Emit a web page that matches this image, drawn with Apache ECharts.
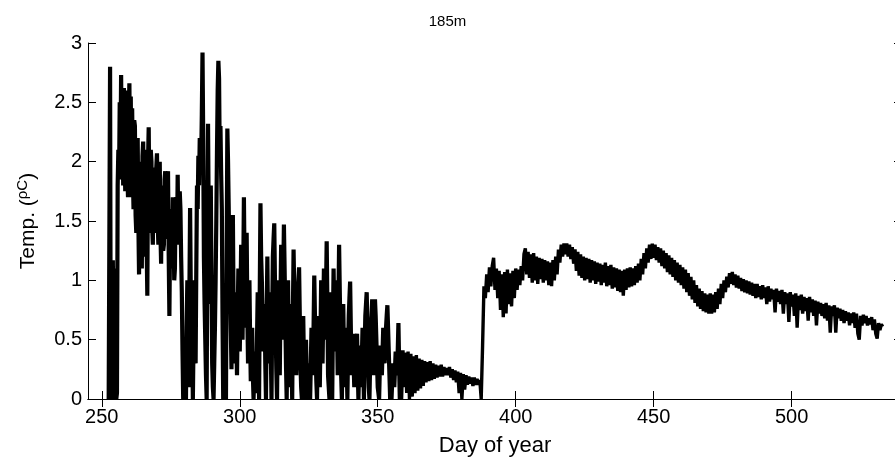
<!DOCTYPE html>
<html>
<head>
<meta charset="utf-8">
<title>185m</title>
<script src="https://cdn.jsdelivr.net/npm/echarts@6/dist/echarts.min.js"></script>
<style>
  html, body { margin: 0; padding: 0; background: #fff; }
  #chart { width: 895px; height: 463px; }
</style>
</head>
<body>
<div id="chart"></div>
<script>
// Temperature record at 185 m depth. Each segment has its own start day and sample step.
const segmentStarts = [252.5, 300.25, 360.5, 388.5, 460.5];
const segmentSteps  = [0.25, 0.25, 0.5, 0.5, 0.5];

// days 252.50 - 300.00, every 6 h (two days per row)
const tempsA = [
  0.00, 0.00, 2.80, 0.00, 0.60, 0.00, 1.17, 0.30,
  0.00, 0.90, 1.10, 0.00, 0.05, 1.80, 2.10, 1.85,
  2.50, 2.00, 2.73, 1.95, 2.60, 1.80, 2.62, 2.10,
  1.75, 2.45, 2.60, 1.90, 1.70, 2.40, 2.66, 1.85,
  2.55, 1.70, 2.45, 1.90, 1.60, 2.35, 2.30, 1.55,
  1.40, 2.10, 2.20, 1.50, 1.05, 1.95, 2.00, 1.40,
  1.10, 2.05, 2.17, 1.45, 1.20, 2.10, 1.90, 1.30,
  0.87, 2.00, 2.29, 1.60, 1.40, 2.10, 2.00, 1.45,
  1.30, 1.95, 1.90, 1.40, 1.50, 1.95, 2.07, 1.50,
  1.30, 1.85, 2.00, 1.40, 1.14, 1.80, 1.70, 1.25,
  1.30, 1.85, 1.92, 1.35, 1.40, 1.85, 1.92, 1.20,
  0.70, 1.40, 1.60, 1.10, 1.20, 1.70, 1.50, 1.00,
  1.10, 1.65, 1.70, 1.30, 1.89, 1.40, 1.30, 1.75,
  1.60, 1.20, 0.90, 0.40, 0.00, 0.30, 0.40, 0.10,
  0.00, 0.60, 1.00, 0.50, 0.10, 0.90, 1.61, 0.90,
  0.20, 0.50, 0.00, 0.50, 1.00, 0.60, 0.30, 1.10,
  1.80, 1.60, 2.05, 1.80, 2.20, 1.90, 2.00, 2.40,
  2.92, 2.20, 1.20, 0.80, 0.50, 0.20, 0.00, 1.40,
  2.32, 1.50, 0.80, 1.20, 1.80, 1.00, 0.30, 0.10,
  0.00, 0.30, 0.60, 1.00, 1.50, 2.10, 2.60, 2.85,
  2.70, 2.00, 2.30, 1.90, 1.60, 0.70, 0.00, 0.40,
  0.80, 0.30, 0.00, 1.20, 2.28, 2.00, 1.60, 1.20,
  1.00, 0.60, 0.25, 0.90, 1.55, 0.80, 0.30, 0.60,
  0.90, 0.50, 0.20, 0.70, 1.10, 0.70, 0.40
];
// days 300.25 - 360.00, every 6 h
const tempsB = [
  0.80, 1.30, 0.90, 0.50, 1.00, 1.70, 1.10, 0.60,
  0.90, 1.40, 0.70, 0.30, 0.70, 1.00, 0.50, 0.15,
  0.40, 0.60, 0.20, 0.00, 0.20, 0.40, 0.20, 0.05,
  0.50, 0.90, 0.40, 0.00, 0.90, 1.65, 1.20, 1.00,
  0.70, 0.40, 0.60, 0.80, 0.30, 0.00, 0.70, 1.20,
  0.60, 0.30, 0.60, 0.90, 0.40, 0.00, 0.70, 1.20,
  1.35, 1.48, 1.00, 0.60, 0.25, 0.00, 0.60, 1.00,
  0.50, 0.20, 0.80, 1.30, 0.80, 0.50, 1.00, 1.47,
  1.10, 0.70, 0.30, 0.00, 0.50, 1.00, 0.50, 0.10,
  0.40, 0.80, 0.40, 0.00, 0.70, 1.26, 0.90, 0.60,
  0.40, 0.20, 0.50, 0.90, 1.00, 1.11, 0.70, 0.30,
  0.10, 0.00, 0.40, 0.70, 0.30, 0.00, 0.30, 0.50,
  0.20, 0.00, 0.20, 0.30, 0.10, 0.00, 0.30, 0.60,
  0.40, 0.20, 0.60, 1.04, 0.70, 0.40, 0.15, 0.00,
  0.40, 0.70, 0.40, 0.10, 0.50, 1.00, 0.60, 0.30,
  0.70, 1.10, 0.80, 0.50, 0.90, 1.33, 0.80, 0.20,
  0.10, 0.00, 0.50, 0.90, 0.40, 0.00, 0.60, 1.10,
  0.70, 0.40, 0.70, 1.00, 0.60, 0.20, 0.80, 1.30,
  0.90, 0.50, 0.20, 0.00, 0.40, 0.80, 0.40, 0.10,
  0.35, 0.60, 0.30, 0.00, 0.40, 0.70, 0.85, 0.99,
  0.60, 0.20, 0.40, 0.55, 0.30, 0.10, 0.30, 0.40,
  0.50, 0.55, 0.25, 0.00, 0.25, 0.45, 0.25, 0.10,
  0.35, 0.60, 0.30, 0.00, 0.40, 0.70, 0.80, 0.90,
  0.60, 0.30, 0.10, 0.00, 0.30, 0.60, 0.70, 0.84,
  0.50, 0.20, 0.50, 0.84, 0.70, 0.50, 0.30, 0.10,
  0.05, 0.00, 0.25, 0.45, 0.30, 0.20, 0.40, 0.60,
  0.45, 0.30, 0.45, 0.60, 0.70, 0.79, 0.60, 0.40,
  0.20, 0.00, 0.15, 0.00, 0.15, 0.30, 0.20, 0.10,
  0.25, 0.40, 0.30, 0.20, 0.40, 0.64, 0.30, 0.00,
  0.15, 0.00, 0.20, 0.41, 0.25, 0.10, 0.25, 0.39
];
// days 360.5 - 388.0, every 12 h
const tempsC = [
  0.05, 0.40, 0.00, 0.38, 0.02, 0.36, 0.05, 0.37, 0.07, 0.34,
  0.09, 0.33, 0.11, 0.32, 0.14, 0.31, 0.15, 0.32, 0.16, 0.30,
  0.17, 0.29, 0.18, 0.28, 0.19, 0.29, 0.19, 0.27, 0.20, 0.26,
  0.20, 0.27, 0.18, 0.25, 0.16, 0.24, 0.14, 0.23, 0.05, 0.22,
  0.00, 0.21, 0.08, 0.20, 0.12, 0.19, 0.13, 0.18, 0.11, 0.18,
  0.12, 0.17, 0.12, 0.16, 0.00, 0.45
];
// days 388.5 - 460.0, every 12 h
const tempsD = [
  0.95, 0.85, 1.05, 0.90, 1.11, 0.95, 1.12, 1.19, 0.92, 1.10,
  0.85, 1.08, 0.75, 1.05, 0.69, 1.07, 0.72, 1.09, 0.80, 1.06,
  0.78, 1.08, 0.85, 1.10, 0.92, 1.09, 0.96, 1.12, 1.00, 1.22,
  1.27, 1.05, 1.24, 1.02, 1.22, 0.98, 1.23, 1.00, 1.20, 0.97,
  1.19, 1.01, 1.18, 0.98, 1.17, 1.00, 1.16, 0.96, 1.15, 0.95,
  1.17, 1.00, 1.20, 1.05, 1.26, 1.15, 1.30, 1.20, 1.31, 1.22,
  1.31, 1.20, 1.30, 1.18, 1.28, 1.14, 1.26, 1.08, 1.24, 1.04,
  1.22, 1.02, 1.20, 1.00, 1.19, 1.01, 1.18, 0.98, 1.17, 1.00,
  1.16, 0.97, 1.15, 0.99, 1.14, 0.96, 1.13, 0.98, 1.15, 0.95,
  1.12, 0.96, 1.13, 0.93, 1.11, 0.94, 1.10, 0.91, 1.09, 0.90,
  1.08, 0.87, 1.09, 0.92, 1.10, 0.94, 1.11, 0.95, 1.10, 0.96,
  1.12, 0.98, 1.14, 1.00, 1.18, 1.05, 1.23, 1.10, 1.27, 1.15,
  1.30, 1.18, 1.31, 1.19, 1.30, 1.17, 1.28, 1.15, 1.27, 1.12,
  1.25, 1.10, 1.23, 1.07, 1.21, 1.05, 1.19, 1.03, 1.17, 1.00,
  1.15, 0.98, 1.13, 0.96
];
// days 460.5 - 533.0, every 12 h
const tempsE = [
  1.11, 0.93, 1.09, 0.90, 1.06, 0.87, 1.03, 0.84, 1.00, 0.81,
  0.96, 0.78, 0.93, 0.76, 0.91, 0.74, 0.89, 0.73, 0.88, 0.72,
  0.89, 0.72, 0.88, 0.73, 0.90, 0.76, 0.93, 0.80, 0.97, 0.85,
  1.00, 0.90, 1.03, 0.94, 1.06, 0.97, 1.07, 0.96, 1.05, 0.94,
  1.04, 0.93, 1.02, 0.91, 1.01, 0.90, 1.00, 0.89, 0.99, 0.88,
  0.98, 0.87, 0.97, 0.85, 0.97, 0.86, 0.95, 0.84, 0.96, 0.85,
  0.94, 0.80, 0.95, 0.82, 0.93, 0.84, 0.92, 0.73, 0.93, 0.82,
  0.91, 0.80, 0.92, 0.72, 0.90, 0.80, 0.89, 0.65, 0.90, 0.78,
  0.88, 0.70, 0.89, 0.60, 0.87, 0.75, 0.88, 0.72, 0.86, 0.74,
  0.85, 0.66, 0.86, 0.73, 0.84, 0.70, 0.83, 0.62, 0.82, 0.72,
  0.81, 0.70, 0.80, 0.68, 0.81, 0.66, 0.79, 0.56, 0.78, 0.70,
  0.79, 0.56, 0.77, 0.68, 0.76, 0.66, 0.75, 0.64, 0.74, 0.66,
  0.73, 0.62, 0.72, 0.64, 0.73, 0.60, 0.72, 0.55, 0.50, 0.70,
  0.62, 0.71, 0.64, 0.70, 0.62, 0.68, 0.63, 0.69, 0.58, 0.67,
  0.55, 0.51, 0.64, 0.58, 0.63, 0.61
];

const xTicks = [250, 300, 350, 400, 450, 500];
const yTicks = [0, 0.5, 1, 1.5, 2, 2.5, 3];

// pair each sample with its day of year
const segments = [tempsA, tempsB, tempsC, tempsD, tempsE];
const segPoints = segments.map((vals, s) =>
  vals.map((v, i) => [segmentStarts[s] + i * segmentSteps[s], v]));

// the fast-sampled autumn part is stroked a little heavier; the two pieces share a joint sample
const early = segPoints[0].concat(segPoints[1]);
const late = [early[early.length - 1]].concat(segPoints[2], segPoints[3], segPoints[4]);

const FONT = '"Liberation Sans", Arial, Helvetica, sans-serif';
const chart = echarts.init(document.getElementById('chart'), null, { renderer: 'canvas' });

const xCommon = {
  type: 'value', min: 245, max: 540,
  axisLine: { show: true, lineStyle: { color: '#000', width: 1 } },
  axisTick: { show: true, inside: true, length: 8, customValues: xTicks, lineStyle: { color: '#000', width: 1 } },
  splitLine: { show: false }
};
const yCommon = {
  type: 'value', min: 0, max: 3, interval: 0.5,
  axisLine: { show: true, lineStyle: { color: '#000', width: 1 } },
  axisTick: { show: true, inside: true, length: 8, customValues: yTicks, lineStyle: { color: '#000', width: 1 } },
  splitLine: { show: false }
};

const lineSeries = (data, width) => ({
  type: 'line',
  data: data,
  xAxisIndex: 0, yAxisIndex: 0,
  showSymbol: false, symbol: 'none',
  sampling: null,
  clip: true,
  lineStyle: { color: '#000', width: width }
});

chart.setOption({
  animation: false,
  backgroundColor: '#fff',
  title: {
    text: '185m', left: 'center', top: 9,
    textStyle: { fontFamily: FONT, fontSize: 15, fontWeight: 'normal', color: '#000' }
  },
  grid: { left: 88, top: 43, width: 814, height: 356, containLabel: false, outerBoundsMode: 'none' },
  xAxis: [
    Object.assign({}, xCommon, {
      position: 'bottom',
      name: 'Day of year', nameLocation: 'middle', nameGap: 36,
      nameTextStyle: { fontFamily: FONT, fontSize: 22, color: '#000' },
      axisLabel: { show: true, customValues: xTicks, margin: 8, fontFamily: FONT, fontSize: 20, color: '#000' }
    }),
    Object.assign({}, xCommon, { position: 'top', axisLabel: { show: false } })
  ],
  yAxis: [
    Object.assign({}, yCommon, {
      position: 'left',
      name: '{n|Temp. (}{s|ρC}{n|)}', nameLocation: 'middle', nameGap: 46, nameRotate: 90,
      nameTextStyle: {
        fontFamily: FONT, color: '#000',
        rich: {
          n: { fontFamily: FONT, fontSize: 21, color: '#000' },
          s: { fontFamily: FONT, fontSize: 15, color: '#000', verticalAlign: 'top', padding: [0, 0, 12, 0] }
        }
      },
      axisLabel: { show: true, margin: 6, fontFamily: FONT, fontSize: 20, color: '#000' }
    }),
    Object.assign({}, yCommon, { position: 'right', axisLabel: { show: false } })
  ],
  series: [lineSeries(early, 4.2), lineSeries(late, 3.4)]
});
</script>
</body>
</html>
